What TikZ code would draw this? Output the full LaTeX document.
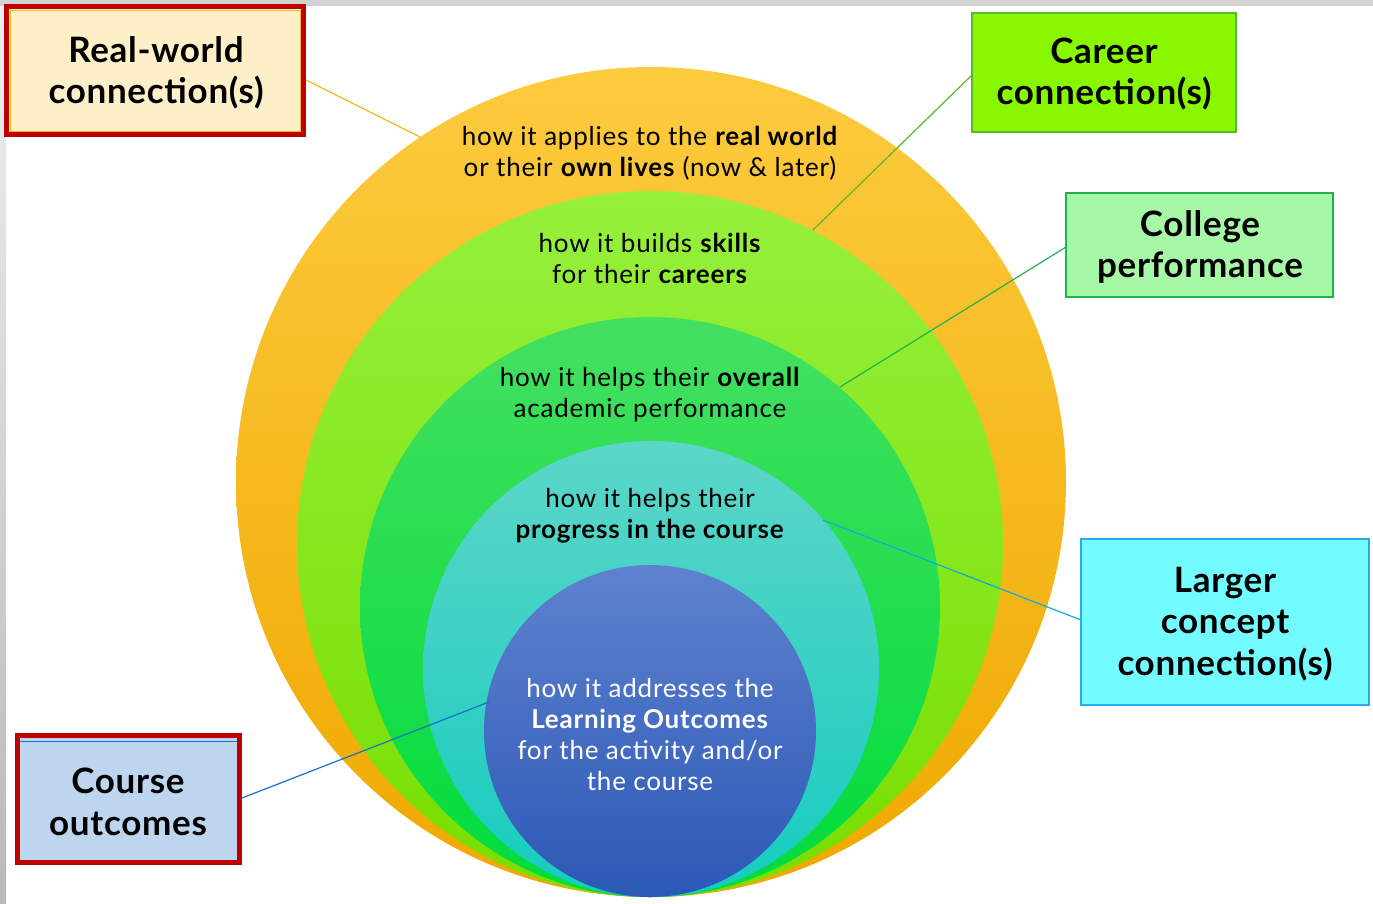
\documentclass[tikz,border=0pt]{standalone}
\usepackage{fontspec}
\setmainfont{Lato}
\begin{document}
\begin{tikzpicture}[x=1pt,y=-1pt,
  circtext/.style={align=center,inner sep=0pt,font=\fontsize{26}{31}\selectfont\addfontfeatures{LetterSpace=3}},
  boxtext/.style={align=center,font=\bfseries\fontsize{35}{41.5}\selectfont\addfontfeatures{LetterSpace=2},inner sep=0pt},
  conn/.style={line width=1.2pt}
]
\definecolor{orA}{HTML}{FDCB3E}\definecolor{orB}{HTML}{EFA800}
\definecolor{ygA}{HTML}{96F03C}\definecolor{ygB}{HTML}{78DE00}
\definecolor{grA}{HTML}{44E060}\definecolor{grB}{HTML}{00DC3C}
\definecolor{tlA}{HTML}{5CD6C8}\definecolor{tlB}{HTML}{16CCC0}
\definecolor{blA}{HTML}{5E82CE}\definecolor{blB}{HTML}{2C58B6}
\definecolor{rwfill}{HTML}{FDF0C8}\definecolor{dred}{HTML}{C00000}
\definecolor{cafill}{HTML}{88F700}\definecolor{cadraw}{HTML}{5BB82A}
\definecolor{cofill}{HTML}{A6F7A6}\definecolor{codraw}{HTML}{22B050}
\definecolor{lafill}{HTML}{72FCFF}\definecolor{ladraw}{HTML}{2AAAE8}
\definecolor{cufill}{HTML}{BDD5EE}\definecolor{cublue}{HTML}{1A70C8}
\definecolor{rwline}{HTML}{F9B818}
\useasboundingbox (0,0) rectangle (1373,903);
\fill[white] (0,0) rectangle (1373,903);
\fill[gray!35] (0,0) rectangle (1373,6);
\shade[top color=gray!12,bottom color=gray!55] (0,6) rectangle (6,903);
% circles
\shade[top color=orA,bottom color=orB] (651,482) circle (415);
\shade[top color=ygA,bottom color=ygB] (650,544) circle (353);
\shade[top color=grA,bottom color=grB] (650,607) circle (290);
\shade[top color=tlA,bottom color=tlB] (651,669) circle (228);
\shade[top color=blA,bottom color=blB] (650,731) circle (166);
% circle texts
\node[circtext] (t1) at (650,153) {how it applies to the \textbf{real world}\\or their \textbf{own lives} (now \& later)};
\node[circtext] (t2) at (650,258) {how it builds \textbf{skills}\\for their \textbf{careers}};
\node[circtext] (t3) at (650,395) {how it helps their \textbf{overall}\\academic performance};
\node[circtext] (t4) at (650,516) {how it helps their\\\textbf{progress in the course}};
\node[circtext,text=white] (t5) at (650,735) {how it addresses the\\\textbf{Learning Outcomes}\\for the activity and/or\\the course};
% boxes
\draw[dred,line width=5pt,fill=rwfill] (6.5,6.5) rectangle (303.5,134.5);
\draw[rwline,line width=0.8pt] (10,10) rectangle (300,131);
\node[boxtext] (rw) at (156,73) {Real-world\\connection(s)};
\coordinate (rwE) at (306,80);
\draw[cadraw,line width=1.5pt,fill=cafill] (972,13) rectangle (1236,132);
\node[boxtext] (ca) at (1104,74) {Career\\connection(s)};
\coordinate (caW) at (972,75);
\draw[codraw,line width=1.5pt,fill=cofill] (1066,193) rectangle (1333,297);
\node[boxtext] (co) at (1200,247) {College\\performance};
\coordinate (coW) at (1066,247);
\draw[ladraw,line width=1.5pt,fill=lafill] (1081,539) rectangle (1369,705);
\node[boxtext] (la) at (1225,624) {Larger\\concept\\connection(s)};
\coordinate (laW) at (1081,620);
\draw[dred,line width=5pt,fill=cufill] (17.5,735.5) rectangle (239.5,862.5);
\draw[cublue,line width=0.8pt] (20,741) -- (237,741);
\node[boxtext] (cu) at (128,802) {Course\\outcomes};
\coordinate (cuE) at (242,798);
% circle anchor points
\coordinate (p1) at (420,137);
\coordinate (p2) at (813,230);
\coordinate (p3) at (840,387);
\coordinate (p4) at (823,520);
\coordinate (p5) at (489,702);
% connectors
\draw[conn,rwline] (rwE) -- (p1);
\draw[conn,cadraw] (caW) -- (p2);
\draw[conn,codraw] (coW) -- (p3);
\draw[conn,cublue!60!cyan] (laW) -- (p4);
\draw[conn,cublue] (cuE) -- (p5);
\end{tikzpicture}
\end{document}
